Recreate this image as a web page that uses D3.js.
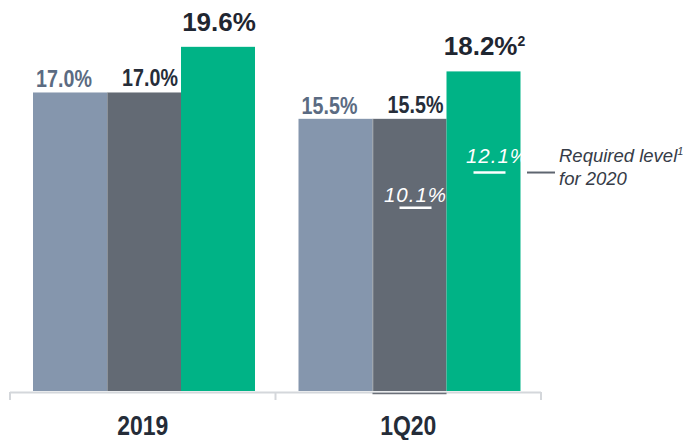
<!DOCTYPE html>
<html><head><meta charset="utf-8">
<script src="https://cdn.jsdelivr.net/npm/d3@7"></script>
<style>
html,body{margin:0;padding:0;background:#fff;}
svg{display:block;}
</style></head>
<body>
<svg id="chart" width="683" height="440"></svg>
<script>
// ---- data ----
const categories = ["2019", "1Q20"];
const seriesNames = ["light", "dark", "green"];
const lightValues = [17.0, 15.5];
const darkValues = [17.0, 15.5];
const greenValues = [19.6, 18.2];
const valueLabels = {
  light: ["17.0%", "15.5%"],
  dark: ["17.0%", "15.5%"],
  green: ["19.6%", "18.2%"]
};
const labelNotes = { green: ["", "2"] };
const requiredLevels = [ // 1Q20 only
  { category: "1Q20", series: "dark", value: 10.1, label: "10.1%" },
  { category: "1Q20", series: "green", value: 12.1, label: "12.1%" }
];
const legendLines = ["Required level", "for 2020"];
const legendNote = "1";

// ---- styles ----
const colors = { light: "#8596ad", dark: "#636a74", green: "#00b386" };
const labelColors = { light: "#5b6b82", dark: "#262d39", green: "#1f2631" };
const sans = "'Liberation Sans',Arial,sans-serif";
const NARROW = 0.82; // horizontal squeeze to imitate a narrow face

const svg = d3.select("#chart");
const seriesValues = { light: lightValues, dark: darkValues, green: greenValues };

const x0 = d3.scaleBand().domain(categories).range([10, 541]).padding(0);
const x1 = d3.scaleBand().domain(seriesNames).range([23, 245]).padding(0);
const y = d3.scaleLinear().domain([0, 20]).range([391, 391 - 20 * 17.56]);

const data = [];
categories.forEach((c, i) => seriesNames.forEach(s => data.push({
  category: c, series: s, value: seriesValues[s][i], label: valueLabels[s][i],
  note: labelNotes[s] ? labelNotes[s][i] : ""
})));

// bars
svg.append("g").selectAll("rect").data(data).join("rect")
  .attr("x", d => x0(d.category) + x1(d.series))
  .attr("y", d => y(d.value))
  .attr("width", x1.bandwidth())
  .attr("height", d => y(0) - y(d.value))
  .attr("fill", d => colors[d.series]);

// thin separator between light and dark bar
svg.append("g").selectAll("line").data(data.filter(d => d.series === "dark")).join("line")
  .attr("x1", d => x0(d.category) + x1(d.series) + 0.5)
  .attr("x2", d => x0(d.category) + x1(d.series) + 0.5)
  .attr("y1", d => y(d.value)).attr("y2", y(0))
  .attr("stroke", "#d9dde3").attr("stroke-width", 0.6).attr("opacity", 0.6);

// axis line with bracket ticks
const axisG = svg.append("g").attr("stroke", "#d4d7db").attr("stroke-width", 2);
axisG.append("line").attr("x1", x0.range()[0]).attr("x2", x0.range()[1])
  .attr("y1", y(0) + 1.5).attr("y2", y(0) + 1.5);
const tickXs = categories.map(c => x0(c)).concat([x0.range()[1]]);
axisG.selectAll("line.tick").data(tickXs).join("line").attr("class", "tick")
  .attr("x1", d => d).attr("x2", d => d)
  .attr("y1", y(0) + 1).attr("y2", y(0) + 9);

// dark underline below 1Q20 dark bar
svg.append("line")
  .attr("x1", x0("1Q20") + x1("dark")).attr("x2", x0("1Q20") + x1("dark") + x1.bandwidth())
  .attr("y1", y(0) + 2.5).attr("y2", y(0) + 2.5)
  .attr("stroke", "#6b7079").attr("stroke-width", 1.5);

// category labels
svg.append("g").selectAll("text").data(categories).join("text")
  .attr("transform", d => `translate(${x0(d) + x0.bandwidth() / 2},435) scale(${NARROW},1)`)
  .attr("text-anchor", "middle")
  .attr("font-family", sans).attr("font-weight", "bold").attr("font-size", 28)
  .attr("fill", "#252c38")
  .text(d => d);

// value labels
const labelDx = { light: -6, dark: 6, green: 1 };
const labelGap = { light: 5, dark: 6, green: 16 };
const lab = svg.append("g").selectAll("text").data(data).join("text")
  .attr("transform", d => {
    const tx = x0(d.category) + x1(d.series) + x1.bandwidth() / 2 + labelDx[d.series];
    const ty = y(d.value) - labelGap[d.series];
    return d.series === "green" ? `translate(${tx},${ty})` : `translate(${tx},${ty}) scale(${NARROW},1)`;
  })
  .attr("text-anchor", "middle")
  .attr("font-family", sans)
  .attr("font-weight", "bold")
  .attr("font-size", d => d.series === "green" ? 26 : 24)
  .attr("fill", d => labelColors[d.series]);
lab.append("tspan").text(d => d.label);
lab.filter(d => d.note).append("tspan")
  .attr("dx", 0).attr("dy", -9).attr("font-size", 14).text(d => d.note);

// required level markers
const rl = svg.append("g");
rl.selectAll("line").data(requiredLevels).join("line")
  .attr("x1", d => x0(d.category) + x1(d.series) + 27)
  .attr("x2", d => x0(d.category) + x1(d.series) + 59)
  .attr("y1", d => y(d.value) - 6)
  .attr("y2", d => y(d.value) - 6)
  .attr("stroke", "#ffffff").attr("stroke-width", 2.5);
rl.selectAll("text").data(requiredLevels).join("text")
  .attr("x", d => x0(d.category) + x1(d.series) + x1.bandwidth() / 2 + (d.series === "green" ? 14 : 6))
  .attr("y", d => y(d.value) - 16 + (d.series === "dark" ? 4 : 0))
  .attr("text-anchor", "middle")
  .attr("font-family", sans).attr("font-style", "italic").attr("font-size", 20.5)
  .attr("letter-spacing", 1)
  .attr("fill", "#ffffff")
  .text(d => d.label);

// legend
const legY = y(12.1) - 6;
svg.append("line").attr("x1", 527).attr("x2", 555).attr("y1", legY).attr("y2", legY)
  .attr("stroke", "#5e6570").attr("stroke-width", 2);
const legT = svg.append("text").attr("x", 559).attr("y", 162)
  .attr("font-family", sans).attr("font-style", "italic").attr("font-size", 18.5)
  .attr("fill", "#363c47");
legT.append("tspan").text(legendLines[0]);
legT.append("tspan").attr("dy", -7).attr("font-size", 11).text(legendNote);
svg.append("text").attr("x", 559).attr("y", 185)
  .attr("font-family", sans).attr("font-style", "italic").attr("font-size", 18.5)
  .attr("fill", "#363c47").text(legendLines[1]);
</script>
</body></html>
